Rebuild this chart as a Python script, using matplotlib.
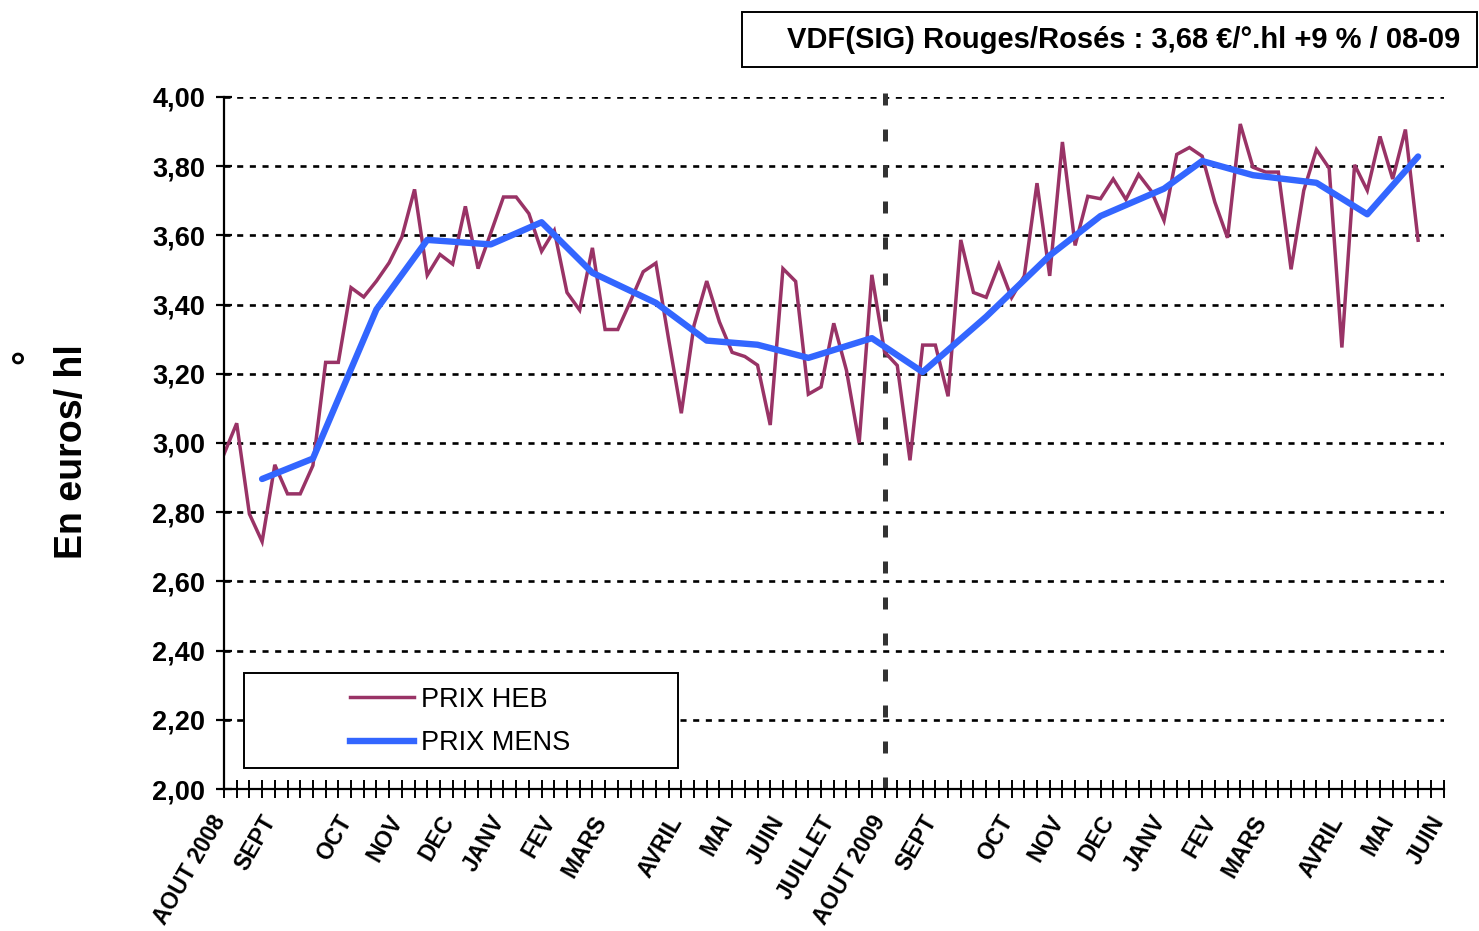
import matplotlib
matplotlib.use("Agg")
import matplotlib.pyplot as plt
from matplotlib.patches import Rectangle
from matplotlib.lines import Line2D
from matplotlib.transforms import ScaledTranslation

plt.rcParams['font.family'] = ['Liberation Sans', 'DejaVu Sans']

# ---- data ----
prix_heb = [2.968, 3.057, 2.795, 2.715, 2.937, 2.853, 2.853, 2.935, 3.233, 3.233,
            3.449, 3.422, 3.468, 3.521, 3.595, 3.733, 3.485, 3.545, 3.517, 3.684,
            3.504, 3.607, 3.711, 3.711, 3.663, 3.554, 3.614, 3.435, 3.384, 3.564,
            3.328, 3.328, 3.410, 3.495, 3.520, 3.300, 3.086, 3.340, 3.468, 3.350,
            3.262, 3.250, 3.225, 3.052, 3.504, 3.467, 3.141, 3.162, 3.346, 3.210,
            3.000, 3.486, 3.263, 3.224, 2.950, 3.283, 3.283, 3.135, 3.587, 3.435,
            3.421, 3.516, 3.420, 3.483, 3.751, 3.483, 3.870, 3.571, 3.713, 3.706,
            3.763, 3.704, 3.776, 3.728, 3.643, 3.834, 3.854, 3.829, 3.696, 3.593,
            3.922, 3.797, 3.783, 3.783, 3.502, 3.730, 3.848, 3.794, 3.276, 3.804,
            3.730, 3.886, 3.763, 3.906, 3.586]

mens_week = [3, 7, 12, 16, 21, 25, 29, 34, 38, 42, 46, 51, 55, 60, 65, 69, 74, 77, 81, 86, 90, 94]
prix_mens = [2.896, 2.955, 3.386, 3.587, 3.574, 3.638, 3.492, 3.405, 3.296, 3.284, 3.246, 3.303,
             3.205, 3.365, 3.542, 3.656, 3.735, 3.815, 3.774, 3.752, 3.661, 3.828]

n_categories = 97
month_pos = [0, 4, 10, 14, 18, 22, 26, 30, 36, 40, 44, 48, 52, 56, 62, 66, 70, 74, 78, 82, 88, 92, 96]
month_labels = ['AOUT 2008', 'SEPT', 'OCT', 'NOV', 'DEC', 'JANV', 'FEV', 'MARS', 'AVRIL', 'MAI',
                'JUIN', 'JUILLET', 'AOUT 2009', 'SEPT', 'OCT', 'NOV', 'DEC', 'JANV', 'FEV', 'MARS',
                'AVRIL', 'MAI', 'JUIN']
year_split = 52

y_ticks = [2.0, 2.2, 2.4, 2.6, 2.8, 3.0, 3.2, 3.4, 3.6, 3.8, 4.0]

title = "VDF(SIG) Rouges/Rosés : 3,68 €/°.hl +9 % / 08-09"

# ---- figure ----
W, H = 1479, 931
fig = plt.figure(figsize=(W / 100, H / 100), dpi=100)
ax = fig.add_axes([224 / W, (H - 789) / H, 1219.5 / W, 692 / H])

ax.set_xlim(0, n_categories - 1)
ax.set_ylim(2.0, 4.0)

# gridlines
for yv in y_ticks[1:]:
    ax.axhline(yv, color='black', lw=1.9, dashes=(2.3, 2.5), zorder=1)

# year separator
ax.axvline(year_split, ymin=0, ymax=1.025, color='#333333', lw=3.6,
           dashes=(2.4, 4.8), zorder=2, clip_on=False)

heb_x = list(range(len(prix_heb)))
ax.plot(heb_x, prix_heb, color='#993366', lw=2.5, zorder=3, solid_joinstyle='miter')
ax.plot(mens_week, prix_mens, color='#3366FF', lw=4.6, zorder=4,
        solid_capstyle='round', solid_joinstyle='round')

# spines
for s in ['top', 'right']:
    ax.spines[s].set_visible(False)
for s in ['left', 'bottom']:
    ax.spines[s].set_linewidth(1.6)
    ax.spines[s].set_zorder(5)

ax.set_yticks(y_ticks)
ax.set_yticklabels([f"{v:.2f}".replace('.', ',') for v in y_ticks],
                   fontsize=19.5, fontweight='bold')
ax.tick_params(axis='y', direction='inout', length=11, width=1.6, pad=8)

lab = [''] * n_categories
for p, l in zip(month_pos, month_labels):
    lab[p] = l
ax.set_xticks(range(n_categories))
ax.set_xticklabels(lab, rotation=60, ha='right', va='center', rotation_mode='anchor',
                   fontsize=16.5, fontweight='bold')
ax.tick_params(axis='x', direction='inout', length=13, width=1.4, pad=14)
shift = ScaledTranslation(-4 / 100, 0, fig.dpi_scale_trans)
for t in ax.get_xticklabels():
    t.set_transform(t.get_transform() + shift)

# legend box
ax.add_patch(Rectangle((20 / 1219.5, 21 / 692), 434 / 1219.5, 95 / 692,
                       transform=ax.transAxes, facecolor='white', edgecolor='black',
                       lw=1.4, zorder=6))
handles = [Line2D([], [], color='#993366', lw=2.5),
           Line2D([], [], color='#3366FF', lw=4.6)]
leg = ax.legend(handles, ['PRIX HEB', 'PRIX MENS'], loc='center left',
                bbox_to_anchor=(126 / 1219.5, 67.5 / 692), frameon=False,
                fontsize=19.5, handlelength=2.35, handletextpad=0.28,
                labelspacing=0.65, borderpad=0, borderaxespad=0)
leg.set_zorder(7)

# y label
fig.text(72 / W, (H - 452) / H, 'En euros/ hl', rotation=90, ha='center', va='center',
         fontsize=27, fontweight='bold')
fig.text(28 / W, (H - 357) / H, '°', rotation=90, ha='center', va='center',
         fontsize=27, fontweight='bold')

# title box
fig.patches.append(Rectangle((742 / W, (H - 67) / H), 735 / W, 55 / H,
                             transform=fig.transFigure, facecolor='white',
                             edgecolor='black', lw=1.4))
fig.text(1460 / W, (H - 40) / H, title, ha='right', va='center',
         fontsize=21, fontweight='bold')

fig.savefig('out.png', dpi=100)
